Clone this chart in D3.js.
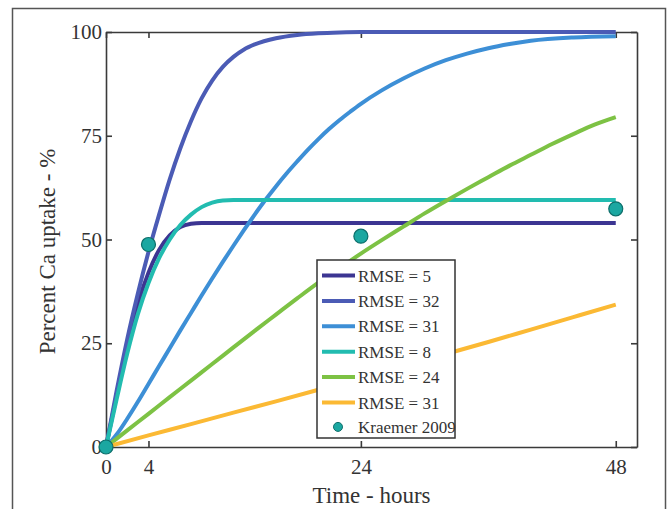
<!DOCTYPE html>
<html>
<head>
<meta charset="utf-8">
<script src="https://cdn.jsdelivr.net/npm/d3@7"></script>
<style>
  html, body { margin: 0; padding: 0; background: #fff; }
  svg { display: block; font-family: "Liberation Serif", "Times New Roman", serif; }
</style>
</head>
<body>
<div id="chart"></div>
<script>
'use strict';

// ─── Data ───────────────────────────────────────────────────────────────────
const xTicks = [0, 4, 24, 48];
const yTicks = [0, 25, 50, 75, 100];

const seriesLabels = ['RMSE = 5', 'RMSE = 32', 'RMSE = 31', 'RMSE = 8', 'RMSE = 24', 'RMSE = 31'];
const seriesColors = ['#3c3592', '#4b5bb5', '#3d8fd6', '#22bcb0', '#7dc244', '#fbb934'];

// [hours, percent]
const rmse5 = [[0,0],[1,12.5],[2,24.5],[3,34.5],[4,42],[5,47.5],[6,51],[7,53],[8,53.8],[9,54],[48,54]];
const rmse32 = [[0,0],[1,13.5],[2,26],[3,37],[4,47],[5,56],[6,64.5],[7,72],[8,78.5],[9,84],
                [10,88.3],[11,91.6],[12,94],[13,95.8],[14,97],[16,98.5],[18,99.3],[20,99.7],
                [22,99.9],[24,100],[48,100]];
const rmse31a = [[0,0],[1,3],[2,6.8],[3,10.9],[4,15.2],[5,19.5],[6,23.8],[7,28.1],[8,32.3],[9,36.5],
                 [10,40.6],[11,44.6],[12,48.5],[13,52.3],[14,56],[15,59.5],[16,62.8],[17,65.9],
                 [18,68.8],[19,71.6],[20,74.2],[21,76.6],[22,78.8],[23,80.8],[24,82.7],[26,86],
                 [28,88.8],[30,91.2],[32,93.2],[34,94.8],[36,96.1],[38,97.1],[40,97.9],[44,98.7],[48,99]];
const rmse8 = [[0,0],[1,11.5],[2,22.5],[3,32],[4,39.5],[5,45.5],[6,50],[7,53.5],[8,56],[9,57.8],
               [10,58.9],[11,59.4],[12,59.5],[48,59.5]];
const rmse24 = [[0,0],[2,4],[4,8],[6,12],[8,16],[10,20],[12,24],[14,28],[16,31.9],[18,35.8],
                [20,39.6],[22,43.1],[24,46.6],[26,49.9],[28,53.1],[30,56.3],[32,59.3],[34,62.2],
                [36,65],[38,67.8],[40,70.4],[42,73],[44,75.4],[46,77.7],[48,79.5]];
const rmse31b = [[0,0],[4,2.8],[8,5.5],[12,8.3],[16,11],[20,13.8],[24,16.7],[28,19.6],[32,22.4],
                 [36,25.3],[40,28.3],[44,31.3],[48,34.3]];

const kraemerHours   = [0, 4, 24, 48];
const kraemerPercent = [0, 48.8, 50.8, 57.4];

const allSeries = [rmse5, rmse32, rmse31a, rmse8, rmse24, rmse31b];

// ─── Layout ─────────────────────────────────────────────────────────────────
const W = 667, H = 509;
const M = { left: 106, right: 30, top: 32, bottom: 62 };
const axisColor = '#3a3a3a';
const FONT = '"Liberation Serif", "Times New Roman", serif';

const svg = d3.select('#chart').append('svg')
    .attr('width', W).attr('height', H);

// outer figure frame
svg.append('rect')
    .attr('x', 12.5).attr('y', 8.5)
    .attr('width', 653).attr('height', 520)
    .attr('fill', 'none').attr('stroke', '#555').attr('stroke-width', 1.5);

const x = d3.scaleLinear().domain([0, 50]).range([M.left, W - M.right]);
const y = d3.scaleLinear().domain([0, 100]).range([H - M.bottom, M.top]);

// ─── Axes (box with inward ticks on all four sides) ─────────────────────────
const tickLen = 6;
function styleAxis(g) {
    g.attr('font-family', FONT).attr('font-size', 21);
    g.select('.domain').attr('stroke', axisColor).attr('stroke-width', 1.6);
    g.selectAll('.tick line').attr('stroke', axisColor).attr('stroke-width', 1.6);
    g.selectAll('.tick text').attr('fill', '#333');
}

svg.append('g')
    .attr('transform', 'translate(0,' + y(0) + ')')
    .call(d3.axisBottom(x).tickValues(xTicks).tickSizeInner(-tickLen).tickSizeOuter(0).tickPadding(12))
    .call(styleAxis);

svg.append('g')
    .attr('transform', 'translate(0,' + y(100) + ')')
    .call(d3.axisTop(x).tickValues(xTicks).tickSizeInner(-tickLen).tickSizeOuter(0).tickFormat(''))
    .call(styleAxis);

svg.append('g')
    .attr('transform', 'translate(' + x(0) + ',0)')
    .call(d3.axisLeft(y).tickValues(yTicks).tickSizeInner(-tickLen).tickSizeOuter(0).tickPadding(4))
    .call(styleAxis);

svg.append('g')
    .attr('transform', 'translate(' + x(50) + ',0)')
    .call(d3.axisRight(y).tickValues(yTicks).tickSizeInner(-tickLen).tickSizeOuter(0).tickFormat(''))
    .call(styleAxis);

// axis labels
svg.append('text')
    .attr('x', (x(0) + x(50)) / 2).attr('y', 503)
    .attr('text-anchor', 'middle')
    .attr('fill', '#333').attr('font-family', FONT).attr('font-size', 23)
    .text('Time - hours');

svg.append('text')
    .attr('transform', 'translate(55,' + ((y(0) + y(100)) / 2 + 12) + ') rotate(-90)')
    .attr('text-anchor', 'middle')
    .attr('fill', '#333').attr('font-family', FONT).attr('font-size', 23)
    .text('Percent Ca uptake - %');

// ─── Model curves ───────────────────────────────────────────────────────────
const line = d3.line()
    .x(function (d) { return x(d[0]); })
    .y(function (d) { return y(d[1]); })
    .curve(d3.curveMonotoneX);

svg.append('g').selectAll('path')
    .data(allSeries)
    .enter().append('path')
    .attr('d', line)
    .attr('fill', 'none')
    .attr('stroke', function (d, i) { return seriesColors[i]; })
    .attr('stroke-width', 4);

// ─── Kraemer 2009 points ────────────────────────────────────────────────────
svg.append('g').selectAll('circle')
    .data(kraemerHours)
    .enter().append('circle')
    .attr('cx', function (d) { return x(d); })
    .attr('cy', function (d, i) { return y(kraemerPercent[i]); })
    .attr('r', 7)
    .attr('fill', '#1ba7a1')
    .attr('stroke', '#0d6e6a')
    .attr('stroke-width', 1.2);

// ─── Legend ─────────────────────────────────────────────────────────────────
const lg = svg.append('g').attr('transform', 'translate(317,260)')
    .attr('font-family', FONT).attr('font-size', 17);
lg.append('rect')
    .attr('width', 138).attr('height', 178)
    .attr('fill', '#fff').attr('stroke', '#333').attr('stroke-width', 1.5);

const rowY = function (i) { return 15.5 + i * 25.4; };

seriesLabels.forEach(function (lab, i) {
    lg.append('line')
        .attr('x1', 5).attr('x2', 38)
        .attr('y1', rowY(i)).attr('y2', rowY(i))
        .attr('stroke', seriesColors[i]).attr('stroke-width', 4);
    lg.append('text')
        .attr('x', 41).attr('y', rowY(i) + 6)
        .attr('fill', '#333')
        .text(lab);
});

lg.append('circle')
    .attr('cx', 21).attr('cy', rowY(6) - 1)
    .attr('r', 4.5)
    .attr('fill', '#1ba7a1').attr('stroke', '#0d6e6a').attr('stroke-width', 1);
lg.append('text')
    .attr('x', 41).attr('y', rowY(6) + 5)
    .attr('fill', '#333')
    .text('Kraemer 2009');
</script>
</body>
</html>
